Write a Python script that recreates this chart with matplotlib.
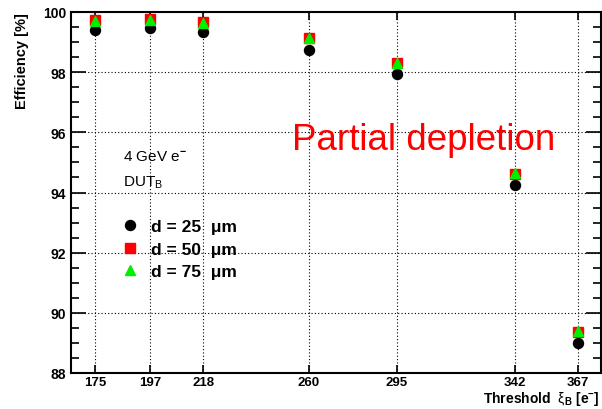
import numpy as np
import matplotlib
matplotlib.use("Agg")
import matplotlib.pyplot as plt
from matplotlib.ticker import MultipleLocator

plt.rcParams["font.family"] = ["Liberation Sans", "DejaVu Sans"]
plt.rcParams["mathtext.fontset"] = "custom"
plt.rcParams["mathtext.rm"] = "Liberation Sans"
plt.rcParams["mathtext.bf"] = "Liberation Sans:bold"
plt.rcParams["mathtext.it"] = "Liberation Sans:italic"

# ---- data: efficiency vs. threshold for three pixel depths ----
thresholds = [175, 197, 218, 260, 295, 342, 367]
eff_d25 = [99.41, 99.46, 99.32, 98.74, 97.95, 94.25, 89.00]
eff_d50 = [99.72, 99.76, 99.66, 99.13, 98.31, 94.62, 89.36]
eff_d75 = [99.71, 99.75, 99.64, 99.12, 98.30, 94.64, 89.38]
labels = ["d = 25  μm", "d = 50  μm", "d = 75  μm"]
# ---------------------------------------------------------------


def main():
    W, H = 602, 410
    fig = plt.figure(figsize=(W / 100, H / 100), dpi=100)
    ax = fig.add_axes([71 / W, 1 - 374 / H, (601 - 71) / W, (374 - 13) / H])

    h1, = ax.plot(thresholds, eff_d25, "o", color="black", ms=7.2, ls="none",
                  label=labels[0], zorder=3)
    h2, = ax.plot(thresholds, eff_d50, "s", color="red", ms=7.0, ls="none",
                  label=labels[1], zorder=4)
    h3, = ax.plot(thresholds, eff_d75, "^", color="#00ee00", ms=6.5, ls="none",
                  label=labels[2], zorder=5)

    ax.set_xlim(165.46, 376.14)
    ax.set_ylim(88, 100)
    ax.set_xticks(thresholds)
    ax.yaxis.set_major_locator(MultipleLocator(2))
    ax.yaxis.set_minor_locator(MultipleLocator(0.5))

    ax.grid(True, which="major", color="black", linestyle=(0, (1, 2)),
            linewidth=0.8, zorder=1)
    ax.set_axisbelow(True)

    for s in ax.spines.values():
        s.set_linewidth(1.5)

    ax.tick_params(axis="y", which="major", direction="in", length=10.5,
                   width=1.2, left=True, right=True, labelsize=10, pad=3.5)
    ax.tick_params(axis="y", which="minor", direction="in", length=5.5,
                   width=1.2, left=True, right=True)
    ax.tick_params(axis="x", which="major", direction="in", length=5.5,
                   width=1.2, top=True, bottom=True, labelsize=9.5, pad=2.5)
    for lab in ax.get_xticklabels() + ax.get_yticklabels():
        lab.set_fontweight("bold")

    ax.set_ylabel("Efficiency [%]", fontsize=10.5, fontweight="bold")
    ax.yaxis.set_label_coords(-(71 - 29) / 530, 1.0)
    ax.yaxis.label.set_horizontalalignment("right")

    fig.text(600 / W, 1 - 403 / H,
             r"$\mathbf{Threshold}\ \ \mathrm{\xi}_{\mathbf{B}}\ \mathbf{[e^{-}]}$",
             fontsize=10, ha="right", va="baseline")

    ax.text(292 / W, 1 - 140 / H, "Partial depletion", transform=fig.transFigure,
            fontsize=26.5, color="red", ha="left", va="center")
    ax.text(123 / W, 1 - 157 / H, r"4 GeV e$^{\mathbf{-}}$",
            transform=fig.transFigure, fontsize=11, va="center")
    ax.text(123 / W, 1 - 183 / H, r"DUT$_{\mathrm{B}}$",
            transform=fig.transFigure, fontsize=11, va="center")

    leg = ax.legend(handles=[h1, h2, h3], loc="upper left",
                    bbox_to_anchor=(121 / W, 1 - 220 / H),
                    bbox_transform=fig.transFigure, frameon=False,
                    fontsize=12.5, handlelength=1.0, handletextpad=0.7,
                    borderpad=0, borderaxespad=0, labelspacing=0.42)
    for t in leg.get_texts():
        t.set_fontweight("bold")

    fig.savefig("out.png", dpi=100)


if __name__ == "__main__":
    main()
